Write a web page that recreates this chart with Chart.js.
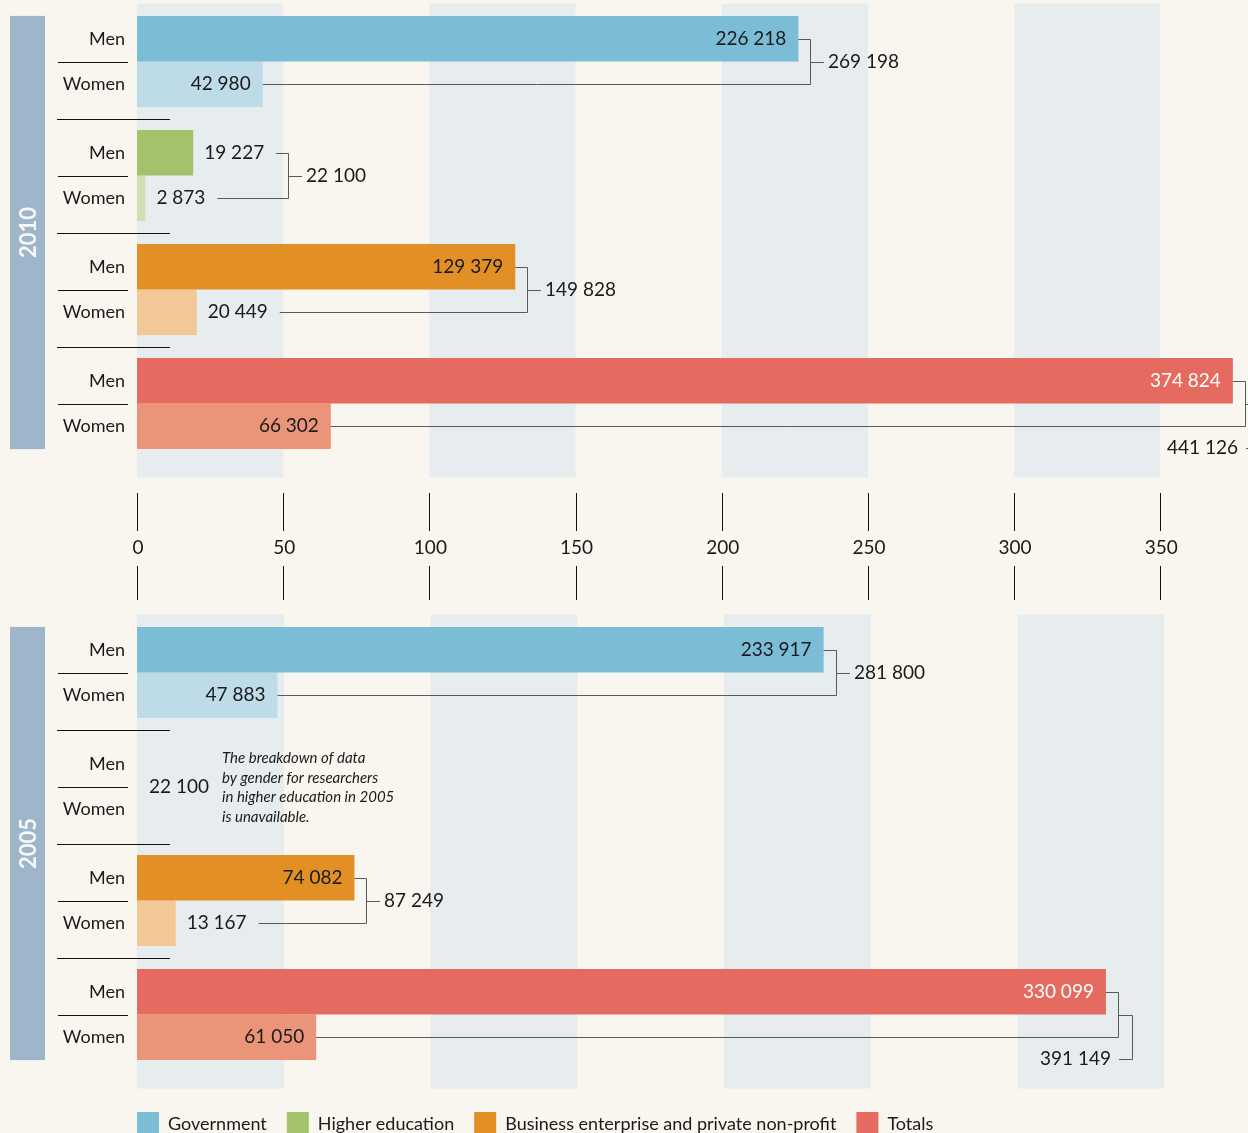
<!DOCTYPE html>
<html>
<head>
<meta charset="utf-8">
<script src="https://cdn.jsdelivr.net/npm/chart.js@4.4.1/dist/chart.umd.min.js"></script>
<style>
  html, body { margin: 0; padding: 0; background: #f9f6ef; }
  .layer { position: absolute; left: 0; top: 0; width: 1248px; height: 1133px; }
</style>
</head>
<body>
<div class="layer"><canvas id="chart2010" width="1248" height="1133"></canvas></div>
<div class="layer"><canvas id="chart2005" width="1248" height="1133"></canvas></div>
<script>
// researchers by sector and gender (head counts)
const categories = ['Government', 'Higher education', 'Business enterprise and private non-profit', 'Totals'];
const men2010 = [226218, 19227, 129379, 374824];
const women2010 = [42980, 2873, 20449, 66302];
const men2005 = [233917, null, 74082, 330099];
const women2005 = [47883, null, 13167, 61050];
const higherEdTotal2005 = 22100;
const axisTicks = [0, 50, 100, 150, 200, 250, 300, 350]; // thousands
const noteLines = ['The breakdown of data', 'by gender for researchers', 'in higher education in 2005', 'is unavailable.'];

const menColors = ['#7bbcd7', '#a3c26c', '#e29026', '#e56b60'];
const womenColors = ['#bddce8', '#d1dfb2', '#f3c897', '#ea9579'];
const FONT = 'Lato, "Open Sans", sans-serif';
const TEXT = '#1a1a1a';
const LINE = '#5a5a5a';
const CAT_PCT = 0.8;

function fmt(v) {
    return String(v).replace(/\B(?=(\d{3})+(?!\d))/g, ' ');
}

function hline(ctx, x1, x2, y) {
    ctx.beginPath();
    ctx.moveTo(x1, Math.round(y) + 0.5);
    ctx.lineTo(x2, Math.round(y) + 0.5);
    ctx.stroke();
}
function vline(ctx, x, y1, y2) {
    ctx.beginPath();
    ctx.moveTo(Math.round(x) + 0.5, y1);
    ctx.lineTo(Math.round(x) + 0.5, y2);
    ctx.stroke();
}

function rowGeometry(chart) {
    const y = chart.scales.y;
    const band = y.getPixelForValue(1) - y.getPixelForValue(0);
    const barH = band * CAT_PCT / 2;
    return categories.map((c, j) => {
        const yc = y.getPixelForValue(j);
        return { yc: yc, yMen: yc - barH / 2, yWomen: yc + barH / 2, top: yc - barH, bottom: yc + barH, band: band };
    });
}

function makeOverlay(year, men, women, showAxis) {
    return {
        id: 'overlay' + year,
        beforeDatasetsDraw(chart) {
            const ctx = chart.ctx;
            const x = chart.scales.x;
            const area = chart.chartArea;
            ctx.save();
            ctx.fillStyle = '#e7ecef';
            for (let i = 0; i < axisTicks.length; i += 2) {
                const x1 = x.getPixelForValue(axisTicks[i] * 1000);
                const x2 = x.getPixelForValue(axisTicks[i + 1] * 1000);
                ctx.fillRect(x1, area.top - 1, x2 - x1, area.bottom - area.top + 18);
            }
            ctx.restore();
        },
        afterDraw(chart) {
            const ctx = chart.ctx;
            const x = chart.scales.x;
            const rows = rowGeometry(chart);
            ctx.save();

            // year side bar
            const top = rows[0].top, bottom = rows[rows.length - 1].bottom;
            ctx.fillStyle = '#9fb5c9';
            ctx.fillRect(10, top, 35, bottom - top);
            ctx.save();
            ctx.translate(28, (top + bottom) / 2);
            ctx.rotate(-Math.PI / 2);
            ctx.fillStyle = '#f7f7f7';
            ctx.font = 'bold 22px ' + FONT;
            ctx.textAlign = 'center';
            ctx.textBaseline = 'middle';
            ctx.fillText(String(year), 0, 1);
            ctx.restore();

            // row labels and separators
            ctx.font = '18px ' + FONT;
            ctx.fillStyle = TEXT;
            ctx.strokeStyle = '#111';
            ctx.lineWidth = 1;
            ctx.textAlign = 'right';
            ctx.textBaseline = 'middle';
            rows.forEach((r, j) => {
                ctx.fillText('Men', 125, r.yMen);
                ctx.fillText('Women', 125, r.yWomen);
                hline(ctx, 58, 128, r.yc);
                if (j < rows.length - 1) hline(ctx, 57, 170, r.yc + r.band / 2);
            });

            // value labels and brackets
            const x0 = x.getPixelForValue(0);
            ctx.font = '19px ' + FONT;
            rows.forEach((r, j) => {
                const m = men[j], w = women[j];
                if (m === null) {
                    ctx.fillStyle = TEXT;
                    ctx.textAlign = 'left';
                    ctx.fillText(fmt(higherEdTotal2005), 149, r.yc);
                    ctx.font = 'italic 15px ' + FONT;
                    noteLines.forEach((t, k) => ctx.fillText(t, 222, r.yc - 28 + k * 19.5));
                    ctx.font = '19px ' + FONT;
                    return;
                }
                const ends = [[m, r.yMen, '#fff'], [w, r.yWomen, TEXT]].map(([v, yy, inCol], k) => {
                    const xe = x.getPixelForValue(v);
                    const label = fmt(v);
                    const tw = ctx.measureText(label).width;
                    if (tw + 24 <= xe - x0) {
                        ctx.fillStyle = (k === 0 && j === 3) ? inCol : TEXT;
                        ctx.textAlign = 'right';
                        ctx.fillText(label, xe - 12, yy);
                        return xe;
                    }
                    ctx.fillStyle = TEXT;
                    ctx.textAlign = 'left';
                    ctx.fillText(label, xe + 11, yy);
                    return xe + 11 + tw + 12;
                });
                const bx = Math.round(Math.max(ends[0], ends[1]) + 12);
                ctx.strokeStyle = LINE;
                hline(ctx, ends[0], bx + 0.5, r.yMen);
                vline(ctx, bx, Math.round(r.yMen) + 0.5, Math.round(r.yWomen) + 0.5);
                hline(ctx, ends[1], bx + 0.5, r.yWomen);
                const total = fmt(m + w);
                ctx.fillStyle = TEXT;
                if (j < 3) {
                    hline(ctx, bx, bx + 14, r.yc);
                    ctx.textAlign = 'left';
                    ctx.fillText(total, bx + 18, r.yc);
                } else {
                    const ox = bx + 14, ty = r.yWomen + 22;
                    hline(ctx, bx, ox + 0.5, r.yc);
                    vline(ctx, ox, Math.round(r.yc) + 0.5, Math.round(ty) + 0.5);
                    hline(ctx, ox - 13, ox + 0.5, ty);
                    ctx.textAlign = 'right';
                    ctx.fillText(total, ox - 21, ty);
                }
            });

            // shared axis between the two panels
            if (showAxis) {
                ctx.strokeStyle = '#111';
                ctx.fillStyle = TEXT;
                ctx.font = '19px ' + FONT;
                ctx.textAlign = 'center';
                axisTicks.forEach(t => {
                    const px = x.getPixelForValue(t * 1000);
                    vline(ctx, px, 493, 531);
                    vline(ctx, px, 566, 600);
                    ctx.fillText(String(t), px + 1, 548);
                });
            }

            // legend
            if (!showAxis) {
                let lx = 137;
                ctx.font = '18px ' + FONT;
                ctx.textAlign = 'left';
                categories.forEach((c, k) => {
                    ctx.fillStyle = menColors[k];
                    ctx.fillRect(lx, 1112, 22, 22);
                    ctx.fillStyle = TEXT;
                    ctx.fillText(c, lx + 31, 1124);
                    lx += 31 + ctx.measureText(c).width + 20;
                });
            }
            ctx.restore();
        }
    };
}

function buildChart(id, year, men, women, padTop, padBottom, xMax, showAxis) {
    const ctx = document.getElementById(id).getContext('2d');
    return new Chart(ctx, {
        type: 'bar',
        data: {
            labels: categories,
            datasets: [{
                label: 'Men',
                data: men,
                backgroundColor: menColors,
                categoryPercentage: CAT_PCT,
                barPercentage: 1
            }, {
                label: 'Women',
                data: women,
                backgroundColor: womenColors,
                categoryPercentage: CAT_PCT,
                barPercentage: 1
            }]
        },
        options: {
            indexAxis: 'y',
            responsive: false,
            animation: false,
            devicePixelRatio: 1,
            layout: { padding: { left: 137, right: 0, top: padTop, bottom: padBottom } },
            plugins: {
                legend: { display: false },
                tooltip: { enabled: false }
            },
            scales: {
                x: { type: 'linear', min: 0, max: xMax, display: false },
                y: { display: false }
            }
        },
        plugins: [makeOverlay(year, men, women, showAxis)]
    });
}

buildChart('chart2010', 2010, men2010, women2010, 4.5, 1133 - 460.5, 380000, true);
buildChart('chart2005', 2005, men2005, women2005, 615.5, 1133 - 1071.5, 378500, false);
</script>
</body>
</html>
